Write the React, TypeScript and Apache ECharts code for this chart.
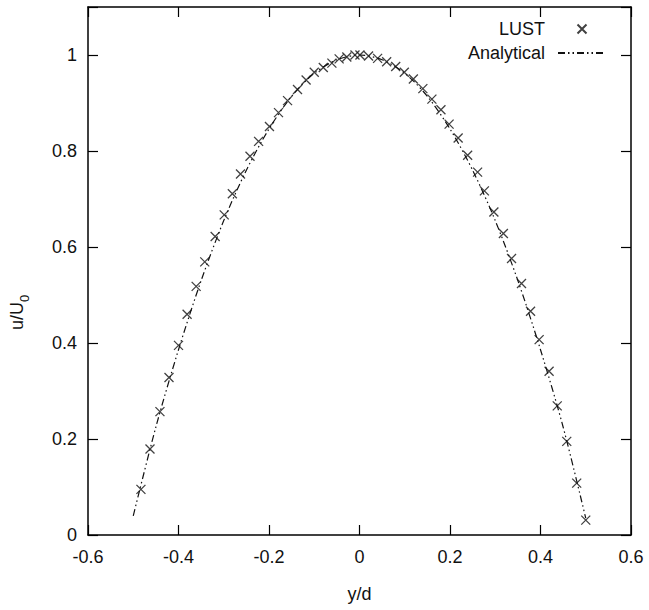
import React, { useEffect, useRef } from "react";
import * as echarts from "echarts";

// LUST simulation points (y/d, u/U0)
const lustX = [
  -0.483, -0.463, -0.441, -0.421, -0.4, -0.381, -0.361, -0.342, -0.319, -0.299,
  -0.281, -0.263, -0.242, -0.223, -0.199, -0.179, -0.159, -0.137, -0.118, -0.1,
  -0.08, -0.061, -0.045, -0.028, -0.01, 0.001, 0.02, 0.04, 0.06, 0.08,
  0.099, 0.119, 0.14, 0.16, 0.18, 0.198, 0.218, 0.239, 0.261, 0.276,
  0.297, 0.318, 0.336, 0.358, 0.378, 0.397, 0.419, 0.437, 0.458, 0.48, 0.5,
];
const lustY = [
  0.095, 0.179, 0.257, 0.328, 0.395, 0.46, 0.518, 0.569, 0.622, 0.667,
  0.711, 0.752, 0.789, 0.82, 0.851, 0.88, 0.905, 0.928, 0.948, 0.964,
  0.974, 0.983, 0.992, 0.996, 1.0, 1.0, 0.998, 0.993, 0.986, 0.976,
  0.964, 0.95, 0.93, 0.908, 0.886, 0.856, 0.827, 0.791, 0.756, 0.717,
  0.673, 0.628, 0.576, 0.524, 0.466, 0.407, 0.341, 0.269, 0.195, 0.108, 0.031,
];

// Analytical profile
const anaX = [
  -0.5, -0.45, -0.4, -0.35, -0.3, -0.25, -0.2, -0.15, -0.1, -0.05, 0,
  0.05, 0.1, 0.15, 0.2, 0.25, 0.3, 0.35, 0.4, 0.45, 0.5,
];
const anaY = [
  0.04, 0.225, 0.386, 0.53, 0.655, 0.76, 0.846, 0.914, 0.962, 0.99, 1.0,
  0.99, 0.962, 0.914, 0.846, 0.76, 0.655, 0.53, 0.386, 0.225, 0.035,
];

const FONT = "Liberation Sans, Arial, sans-serif";

export default function App() {
  const ref = useRef<HTMLDivElement>(null);
  useEffect(() => {
    if (!ref.current) return;
    const chart = echarts.init(ref.current, null, { renderer: "svg" });
    const axisCommon = {
      type: "value",
      splitLine: { show: false },
      axisLine: { show: true, onZero: false, lineStyle: { color: "#000", width: 1.5 } },
      axisTick: { show: true, inside: true, length: 10, lineStyle: { color: "#000", width: 1.2 } },
    };
    chart.setOption({
      animation: false,
      backgroundColor: "#fff",
      textStyle: { fontFamily: FONT },
      grid: { left: 88, top: 7, right: 18, bottom: 75, containLabel: false },
      legend: {
        data: [
          { name: "LUST" },
          { name: "Analytical", itemStyle: { opacity: 0 } },
        ],
        orient: "vertical",
        right: 37,
        top: 15,
        align: "right",
        itemWidth: 48,
        itemHeight: 9,
        itemGap: 6,
        textStyle: { fontSize: 18, color: "#111", fontFamily: FONT, lineHeight: 18, padding: [0, 8, 0, 0] },
      },
      xAxis: [
        {
          ...axisCommon,
          position: "bottom",
          min: -0.6,
          max: 0.6,
          interval: 0.2,
          name: "y/d",
          nameLocation: "middle",
          nameGap: 50,
          nameTextStyle: { fontSize: 18, color: "#111", fontFamily: FONT },
          axisLabel: { fontSize: 18, color: "#111", margin: 13, fontFamily: FONT },
        },
        {
          ...axisCommon,
          position: "top",
          min: -0.6,
          max: 0.6,
          interval: 0.2,
          axisLabel: { show: false },
        },
      ],
      yAxis: [
        {
          ...axisCommon,
          position: "left",
          min: 0,
          max: 1.1,
          interval: 0.2,
          axisLabel: {
            fontSize: 18,
            color: "#111",
            margin: 11,
            fontFamily: FONT,
            formatter: (v: number) => (v > 1.05 ? "" : String(Math.round(v * 10) / 10)),
          },
        },
        {
          ...axisCommon,
          position: "right",
          min: 0,
          max: 1.1,
          interval: 0.2,
          axisLabel: { show: false },
        },
      ],
      graphic: [
        {
          type: "group",
          x: 26,
          y: 310,
          rotation: Math.PI / 2,
          children: [
            {
              type: "text",
              x: -20,
              y: 0,
              style: { text: "u/U", fontSize: 18, fill: "#111", fontFamily: FONT, textAlign: "left", textVerticalAlign: "bottom" },
            },
            {
              type: "text",
              x: 8,
              y: 5,
              style: { text: "0", fontSize: 13, fill: "#111", fontFamily: FONT, textAlign: "left", textVerticalAlign: "bottom" },
            },
          ],
        },
      ],
      series: [
        {
          name: "LUST",
          type: "scatter",
          data: lustX.map((x, i) => [x, lustY[i]]),
          symbol: "path://M0,0L10,10M0,10L10,0",
          symbolSize: 9,
          itemStyle: { color: "rgba(0,0,0,0)", borderColor: "#111", borderWidth: 1.3 },
          z: 3,
        },
        {
          name: "Analytical",
          type: "line",
          data: anaX.map((x, i) => [x, anaY[i]]),
          smooth: 0.3,
          symbol: "none",
          showSymbol: false,
          itemStyle: { color: "#111" },
          lineStyle: { color: "#111", width: 1.2, type: [7, 3, 1.5, 3, 1.5, 3] },
          z: 2,
        },
      ],
    });
    return () => chart.dispose();
  }, []);
  return (
    <div
      ref={ref}
      style={{ position: "fixed", left: 0, top: 0, width: 649, height: 610, background: "#fff" }}
    />
  );
}
